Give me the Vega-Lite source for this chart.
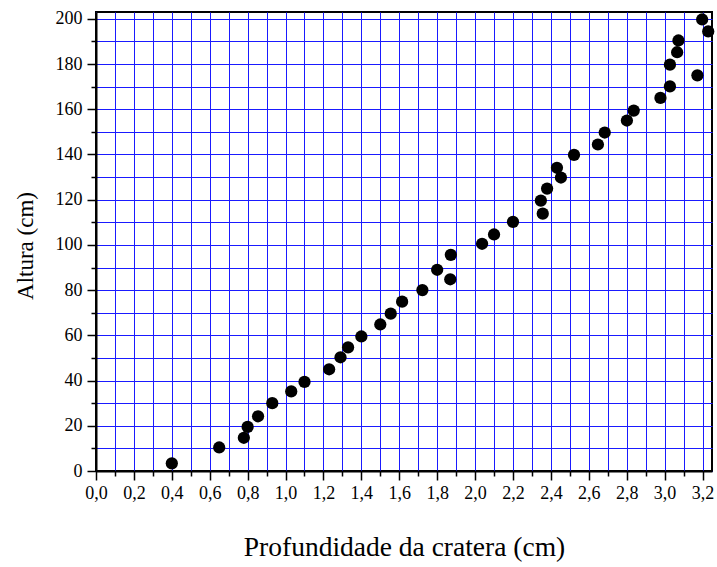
{
  "$schema": "https://vega.github.io/schema/vega-lite/v6.json",
  "autosize": {"type": "none"},
  "padding": {"left": 96, "top": 12, "right": 5, "bottom": 96},
  "width": 616,
  "height": 459,
  "background": "white",
  "config": {
    "view": {"stroke": "black", "strokeWidth": 2},
    "font": "Liberation Serif"
  },
  "data": {
    "values": [
      {"x": 0.40, "y": 3.4},
      {"x": 0.65, "y": 10.4},
      {"x": 0.78, "y": 14.7},
      {"x": 0.80, "y": 19.5},
      {"x": 0.855, "y": 24.2},
      {"x": 0.93, "y": 30.0},
      {"x": 1.03, "y": 35.2},
      {"x": 1.10, "y": 39.4},
      {"x": 1.23, "y": 45.0},
      {"x": 1.29, "y": 50.3},
      {"x": 1.33, "y": 54.7},
      {"x": 1.40, "y": 59.5},
      {"x": 1.50, "y": 64.8},
      {"x": 1.555, "y": 69.6},
      {"x": 1.615, "y": 74.9},
      {"x": 1.722, "y": 80.0},
      {"x": 1.80, "y": 89.0},
      {"x": 1.869, "y": 84.8},
      {"x": 1.872, "y": 95.6},
      {"x": 2.037, "y": 100.5},
      {"x": 2.10, "y": 104.6},
      {"x": 2.20, "y": 110.2},
      {"x": 2.347, "y": 119.6},
      {"x": 2.357, "y": 113.8},
      {"x": 2.38, "y": 124.9},
      {"x": 2.432, "y": 134.1},
      {"x": 2.453, "y": 129.8},
      {"x": 2.522, "y": 139.8},
      {"x": 2.648, "y": 144.4},
      {"x": 2.684, "y": 149.7},
      {"x": 2.801, "y": 155.0},
      {"x": 2.837, "y": 159.4},
      {"x": 2.978, "y": 165.0},
      {"x": 3.028, "y": 170.1},
      {"x": 3.028, "y": 179.7},
      {"x": 3.066, "y": 185.2},
      {"x": 3.073, "y": 190.4},
      {"x": 3.173, "y": 175.0},
      {"x": 3.198, "y": 199.7},
      {"x": 3.230, "y": 194.4}
    ]
  },
  "mark": {"type": "point", "filled": true, "shape": "circle", "size": 150, "color": "black", "opacity": 1},
  "encoding": {
    "x": {
      "field": "x",
      "type": "quantitative",
      "scale": {"domain": [0, 3.25], "nice": false, "zero": false},
      "axis": {
        "title": "Profundidade da cratera (cm)",
        "titleFont": "Liberation Serif",
        "titleFontSize": 27.5,
        "titleFontWeight": "normal",
        "titleColor": "black",
        "titleY": 84,
        "titleBaseline": "alphabetic",
        "values": [0, 0.1, 0.2, 0.3, 0.4, 0.5, 0.6, 0.7, 0.8, 0.9, 1.0, 1.1, 1.2, 1.3, 1.4, 1.5, 1.6, 1.7, 1.8, 1.9, 2.0, 2.1, 2.2, 2.3, 2.4, 2.5, 2.6, 2.7, 2.8, 2.9, 3.0, 3.1, 3.2],
        "labelExpr": "round(datum.value*10)%2==0 ? replace(format(datum.value,'.1f'),'.',',') : ''",
        "labelFont": "Liberation Serif",
        "labelFontSize": 18,
        "labelColor": "black",
        "labelPadding": 4,
        "labelFlush": false,
        "labelOverlap": false,
        "domainColor": "black",
        "domainWidth": 2,
        "tickColor": "black",
        "tickWidth": 1.5,
        "tickSize": {"condition": {"test": "round(datum.value*10)%2==0", "value": 9}, "value": 5},
        "grid": true,
        "gridColor": "#1a1aff",
        "gridWidth": 1,
        "gridOpacity": 1
      }
    },
    "y": {
      "field": "y",
      "type": "quantitative",
      "scale": {"domain": [0, 203], "nice": false, "zero": false},
      "axis": {
        "title": "Altura (cm)",
        "titleFont": "Liberation Serif",
        "titleFontSize": 23,
        "titleFontWeight": "normal",
        "titleColor": "black",
        "titleX": -64,
        "titleY": 233.5,
        "titleBaseline": "alphabetic",
        "titleAngle": -90,
        "values": [0, 10, 20, 30, 40, 50, 60, 70, 80, 90, 100, 110, 120, 130, 140, 150, 160, 170, 180, 190, 200],
        "labelExpr": "round(datum.value/10)%2==0 ? format(datum.value,'d') : ''",
        "labelFont": "Liberation Serif",
        "labelFontSize": 18,
        "labelColor": "black",
        "labelPadding": 5,
        "labelFlush": false,
        "labelOverlap": false,
        "domainColor": "black",
        "domainWidth": 2,
        "tickColor": "black",
        "tickWidth": 1.5,
        "tickSize": {"condition": {"test": "round(datum.value/10)%2==0", "value": 9}, "value": 5},
        "grid": true,
        "gridColor": "#1a1aff",
        "gridWidth": 1,
        "gridOpacity": 1
      }
    }
  }
}
